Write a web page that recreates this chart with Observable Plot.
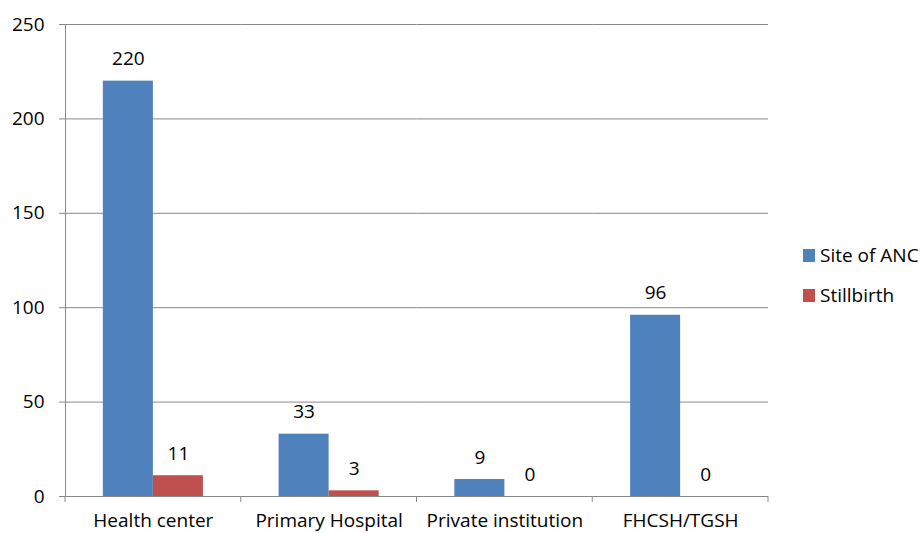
<!DOCTYPE html>
<html>
<head>
<meta charset="utf-8">
<script src="https://cdn.jsdelivr.net/npm/d3@7"></script>
<script src="https://cdn.jsdelivr.net/npm/@observablehq/plot@0.6"></script>
<style>
  html, body { margin: 0; padding: 0; background: white; }
  #wrap { position: relative; width: 922px; height: 533px; font-family: "Open Sans", sans-serif; }
  #legend { position: absolute; left: 803px; top: 248px; font-size: 19px; color: #000; }
  .item { display: flex; align-items: center; height: 14px; margin-bottom: 26px; white-space: nowrap; }
  .sw { width: 12px; height: 13px; margin-right: 5px; }
</style>
</head>
<body>
<div id="wrap"><div id="legend"></div></div>
<script>
const categories = ["Health center", "Primary Hospital", "Private institution", "FHCSH/TGSH"];
const series = ["Site of ANC", "Stillbirth"];
const siteOfANC = [220, 33, 9, 96];
const stillbirth = [11, 3, 0, 0];
const yTicks = [0, 50, 100, 150, 200, 250];
const colors = ["#4F81BD", "#C0504D"];

const data = categories.flatMap((c, i) => [
  {cat: c, series: series[0], value: siteOfANC[i]},
  {cat: c, series: series[1], value: stillbirth[i]}
]);

const font = "'Open Sans', sans-serif";

const plot = Plot.plot({
  width: 922,
  height: 533,
  marginLeft: 65,
  marginRight: 154,
  marginTop: 24,
  marginBottom: 37,
  style: {fontFamily: font, fontSize: "19px", color: "#000", background: "white", overflow: "visible"},
  fx: {domain: categories, padding: 0, label: null, round: false},
  x: {domain: series, paddingInner: 0, paddingOuter: 0.757, axis: null, round: false},
  y: {domain: [0, 250], label: null},
  color: {domain: series, range: colors},
  marks: [
    Plot.gridY(yTicks, {stroke: "#888", strokeOpacity: 1}),
    Plot.axisY(yTicks, {tickSize: 6, tickPadding: 15, stroke: "#888", fill: "#000", fontSize: 19, label: null}),
    Plot.axisFx({anchor: "bottom", tickSize: 0, tickPadding: 17, label: null, fontSize: 19, fill: "#000"}),
    Plot.frame({anchor: "left", stroke: "#888", facetAnchor: "left"}),
    Plot.barY(data, {fx: "cat", x: "series", y: "value", fill: "series"}),
    Plot.text(data, {fx: "cat", x: "series", y: "value", text: d => String(d.value), dy: -22, fontSize: 19, fill: "#000"})
  ]
});

// boundary ticks on the category axis, positioned from the fx scale
const fx = plot.scale("fx");
const y = plot.scale("y");
const y0 = y.apply(0);
const bounds = categories.map(c => fx.apply(c)).concat([fx.apply(categories[categories.length - 1]) + fx.bandwidth]);
d3.select(plot).append("g")
  .selectAll("line").data(bounds).join("line")
  .attr("x1", d => d).attr("x2", d => d)
  .attr("y1", y0).attr("y2", y0 + 6)
  .attr("stroke", "#888");

document.getElementById("wrap").prepend(plot);

const legend = d3.select("#legend");
series.forEach((s, i) => {
  const it = legend.append("div").attr("class", "item");
  it.append("div").attr("class", "sw").style("background", colors[i]);
  it.append("span").text(s);
});
</script>
</body>
</html>
